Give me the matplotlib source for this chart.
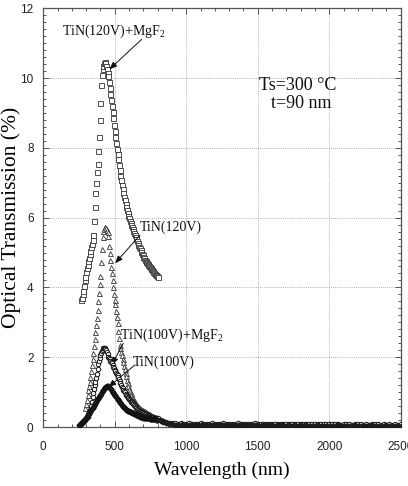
import numpy as np
import matplotlib
matplotlib.use("Agg")
import matplotlib.pyplot as plt
from matplotlib.ticker import MultipleLocator

plt.rcParams['mathtext.fontset'] = 'custom'
plt.rcParams['mathtext.rm'] = 'Liberation Serif'
plt.rcParams['mathtext.it'] = 'Liberation Serif:italic'

# ---------------- data ----------------
# TiN(120V)+MgF2 (squares), 265-800 nm, 5 nm step
wl_sq = np.arange(265, 801, 5)
t_sq = [3.65, 3.70, 3.80, 3.90, 4.05, 4.20, 4.30, 4.45, 4.55, 4.65,
        4.75, 4.85, 4.95, 5.05, 5.15, 5.25, 5.35, 5.50, 5.90, 6.30,
        6.70, 7.00, 7.30, 7.55, 7.90, 8.30, 8.80, 9.30, 9.80, 10.10,
        10.25, 10.35, 10.42, 10.45, 10.42, 10.35, 10.25, 10.15, 10.05, 9.90,
        9.72, 9.55, 9.38, 9.20, 9.02, 8.85, 8.65, 8.47, 8.30, 8.13,
        7.97, 7.82, 7.67, 7.52, 7.37, 7.20, 7.07, 6.95, 6.83, 6.71,
        6.60, 6.50, 6.40, 6.30, 6.21, 6.13, 6.05, 5.98, 5.91, 5.85,
        5.79, 5.73, 5.67, 5.61, 5.55, 5.50, 5.45, 5.39, 5.33, 5.28,
        5.22, 5.17, 5.12, 5.07, 5.02, 4.97, 4.92, 4.88, 4.84, 4.80,
        4.77, 4.74, 4.71, 4.68, 4.65, 4.62, 4.59, 4.56, 4.53, 4.50,
        4.47, 4.44, 4.41, 4.39, 4.37, 4.35, 4.33, 4.31]

# TiN(120V) (triangles), 295-800 nm, 5 nm step
wl_tr = np.arange(295, 801, 5)
t_tr = [0.54, 0.65, 0.78, 0.92, 1.05, 1.17, 1.30, 1.43, 1.60, 1.77,
        1.95, 2.12, 2.32, 2.52, 2.72, 2.92, 3.12, 3.35, 3.60, 3.85,
        4.10, 4.32, 4.72, 5.10, 5.44, 5.62, 5.68, 5.72, 5.73, 5.70,
        5.64, 5.58, 5.46, 5.20, 4.98, 4.78, 4.58, 4.40, 4.22, 4.02,
        3.80, 3.65, 3.52, 3.32, 3.15, 2.98, 2.75, 2.55, 2.35, 2.25,
        2.15, 2.05, 1.95, 1.85, 1.75, 1.65, 1.55, 1.45, 1.35, 1.26,
        1.18, 1.10, 1.03, 0.97, 0.92, 0.87, 0.82, 0.78, 0.74, 0.71,
        0.69, 0.66, 0.63, 0.61, 0.58, 0.56, 0.54, 0.52, 0.51, 0.50,
        0.49, 0.47, 0.46, 0.45, 0.44, 0.42, 0.41, 0.40, 0.38, 0.37,
        0.36, 0.34, 0.33, 0.32, 0.31, 0.30, 0.29, 0.28, 0.27, 0.27,
        0.26, 0.26]

# TiN(100V)+MgF2 (circles), 260-800 nm, 5 nm step + tail 820-2500 nm, 20 nm step
wl_ci = np.arange(260, 801, 5)
t_ci = [0.05, 0.08, 0.11, 0.13, 0.15, 0.17, 0.19, 0.22, 0.26, 0.30,
        0.34, 0.38, 0.42, 0.46, 0.50, 0.61, 0.73, 0.85, 0.97, 1.08,
        1.19, 1.30, 1.41, 1.52, 1.65, 1.80, 1.90, 1.98, 2.05, 2.11,
        2.17, 2.22, 2.26, 2.26, 2.25, 2.23, 2.20, 2.15, 2.08, 2.01,
        1.98, 1.94, 1.90, 1.87, 1.82, 1.77, 1.72, 1.68, 1.64, 1.60,
        1.56, 1.52, 1.48, 1.43, 1.37, 1.31, 1.26, 1.21, 1.16, 1.11,
        1.07, 1.03, 0.99, 0.95, 0.91, 0.88, 0.85, 0.82, 0.80, 0.77,
        0.75, 0.73, 0.71, 0.69, 0.66, 0.63, 0.60, 0.57, 0.54, 0.51,
        0.49, 0.48, 0.47, 0.45, 0.44, 0.43, 0.42, 0.41, 0.40, 0.39,
        0.38, 0.37, 0.36, 0.35, 0.33, 0.32, 0.31, 0.30, 0.29, 0.29,
        0.28, 0.28, 0.28, 0.27, 0.27, 0.27, 0.26, 0.26, 0.26]

wl_tail = np.arange(820, 2501, 20)
t_ci_tail = [0.20, 0.16, 0.14, 0.12, 0.11, 0.11, 0.10, 0.11, 0.10, 0.10,
             0.11, 0.10, 0.09, 0.10, 0.11, 0.10, 0.09, 0.10, 0.11, 0.10,
             0.09, 0.10, 0.11, 0.10, 0.09, 0.10, 0.10, 0.11, 0.09, 0.10,
             0.10, 0.09, 0.10, 0.11, 0.10, 0.09, 0.10, 0.10, 0.09, 0.10,
             0.09, 0.10, 0.09, 0.10, 0.09, 0.08, 0.09, 0.10, 0.09, 0.08,
             0.09, 0.08, 0.09, 0.10, 0.09, 0.08, 0.09, 0.08, 0.09, 0.08,
             0.08, 0.09, 0.08, 0.07, 0.08, 0.09, 0.08, 0.07, 0.08, 0.09,
             0.08, 0.07, 0.08, 0.07, 0.08, 0.09, 0.08, 0.07, 0.08, 0.07,
             0.08, 0.07, 0.08, 0.07, 0.08]

# TiN(100V) (diamonds), 250-800 nm, 5 nm step + tail
wl_di = np.arange(250, 801, 5)
t_di = [0.05, 0.07, 0.09, 0.11, 0.13, 0.15, 0.17, 0.19, 0.21, 0.23,
        0.26, 0.28, 0.30, 0.34, 0.38, 0.42, 0.46, 0.49, 0.52, 0.55,
        0.58, 0.61, 0.65, 0.69, 0.73, 0.77, 0.81, 0.84, 0.87, 0.90,
        0.93, 0.96, 0.99, 1.02, 1.06, 1.09, 1.12, 1.14, 1.16, 1.17,
        1.17, 1.16, 1.15, 1.13, 1.11, 1.08, 1.04, 1.01, 0.98, 0.95,
        0.92, 0.89, 0.86, 0.83, 0.80, 0.77, 0.74, 0.71, 0.68, 0.65,
        0.62, 0.60, 0.58, 0.56, 0.54, 0.52, 0.50, 0.48, 0.47, 0.46,
        0.45, 0.44, 0.43, 0.42, 0.41, 0.40, 0.39, 0.38, 0.37, 0.36,
        0.35, 0.34, 0.33, 0.32, 0.31, 0.30, 0.29, 0.29, 0.28, 0.28,
        0.27, 0.27, 0.27, 0.26, 0.26, 0.26, 0.25, 0.25, 0.25, 0.24,
        0.24, 0.24, 0.23, 0.23, 0.23, 0.22, 0.22, 0.22, 0.21, 0.21,
        0.21]
t_di_tail = [0.17, 0.13, 0.11, 0.09, 0.08, 0.07, 0.07, 0.06, 0.07, 0.06,
             0.06, 0.07, 0.06, 0.05, 0.06, 0.07, 0.06, 0.05, 0.06, 0.06,
             0.05, 0.06, 0.07, 0.06, 0.05, 0.06, 0.05, 0.06, 0.07, 0.06,
             0.05, 0.06, 0.05, 0.06, 0.05, 0.04, 0.05, 0.06, 0.05, 0.05,
             0.04, 0.05, 0.06, 0.05, 0.04, 0.05, 0.04, 0.05, 0.04, 0.05,
             0.04, 0.05, 0.04, 0.03, 0.04, 0.05, 0.04, 0.03, 0.04, 0.04,
             0.03, 0.04, 0.05, 0.04, 0.03, 0.04, 0.03, 0.04, 0.05, 0.04,
             0.03, 0.04, 0.03, 0.04, 0.05, 0.04, 0.03, 0.04, 0.03, 0.04,
             0.03, 0.04, 0.03, 0.04, 0.03]

x_ticks = [0, 500, 1000, 1500, 2000, 2500]
y_ticks = [0, 2, 4, 6, 8, 10, 12]

# ---------------- figure ----------------
fig = plt.figure(figsize=(4.08, 4.86), dpi=100)
ax = fig.add_axes([43.3 / 408, 59 / 486, 357.4 / 408, 418.7 / 486])

ec = '#333333'
ax.plot(wl_sq, t_sq, ls='none', marker='s', ms=3.6, mfc='white', mec=ec, mew=0.6, zorder=3)
ax.plot(wl_tr, t_tr, ls='none', marker='^', ms=3.6, mfc='white', mec=ec, mew=0.6, zorder=3)
ax.plot(np.concatenate([wl_ci, wl_tail]), t_ci + t_ci_tail, ls='none', marker='o', ms=3.2,
        mfc='white', mec='#111111', mew=0.7, zorder=4)
ax.plot(np.concatenate([wl_di, wl_tail]), t_di + t_di_tail, ls='none', marker='D', ms=2.8,
        mfc='#222222', mec='#111111', mew=0.6, zorder=4)

ax.set_xlim(0, 2500)
ax.set_ylim(0, 12)
ax.set_xticks(x_ticks)
ax.set_yticks(y_ticks)
ax.xaxis.set_minor_locator(MultipleLocator(100))
ax.yaxis.set_minor_locator(MultipleLocator(0.2))
ax.tick_params(which='both', direction='in', top=True, right=True, color='#555555', width=0.7)
ax.tick_params(which='major', length=4.5)
ax.tick_params(which='minor', length=2.5)
ax.tick_params(axis='x', pad=10)
ax.tick_params(axis='y', pad=7)
for lab in ax.get_xticklabels() + ax.get_yticklabels():
    lab.set_family('Liberation Sans')
    lab.set_fontsize(8.5)
    lab.set_color('#222222')
ax.grid(True, which='major', ls=(0, (1, 1.5)), color='#999999', lw=0.6)
for s in ax.spines.values():
    s.set_color('#555555')
    s.set_linewidth(0.9)

ax.set_xlabel('Wavelength (nm)', family='Liberation Serif', fontsize=14, labelpad=6)
ax.set_ylabel('Optical Transmission (%)', family='Liberation Serif', fontsize=15.5)
ax.yaxis.set_label_coords((21 - 43.3) / 357.4, 0.5)

serif = dict(family='Liberation Serif', fontsize=10, color='#111111')
arrow = dict(arrowstyle='-|>,head_length=0.45,head_width=0.18', color='#111111', lw=0.7,
             shrinkA=0, shrinkB=0)

ax.text(490, 11.35, 'TiN(120V)+MgF$_2$', ha='center', va='center', **serif)
ax.annotate('', xy=(462, 10.25), xytext=(688, 11.11), arrowprops=arrow)

ax.text(895, 5.73, 'TiN(120V)', ha='center', va='center', **serif)
ax.annotate('', xy=(502, 4.69), xytext=(676, 5.50), arrowprops=arrow)

ax.text(902, 2.62, 'TiN(100V)+MgF$_2$', ha='center', va='center', **serif)
ax.annotate('', xy=(478, 1.78), xytext=(560, 2.40), arrowprops=arrow)

ax.text(845, 1.86, 'TiN(100V)', ha='center', va='center', **serif)
ax.annotate('', xy=(455, 1.14), xytext=(641, 1.78), arrowprops=arrow)

ax.text(1780, 9.80, 'Ts=300 °C', ha='center', va='center', family='Liberation Serif',
        fontsize=13, color='#111111')
ax.text(1805, 9.26, 't=90 nm', ha='center', va='center', family='Liberation Serif',
        fontsize=13, color='#111111')

fig.savefig('out.png', dpi=100)
